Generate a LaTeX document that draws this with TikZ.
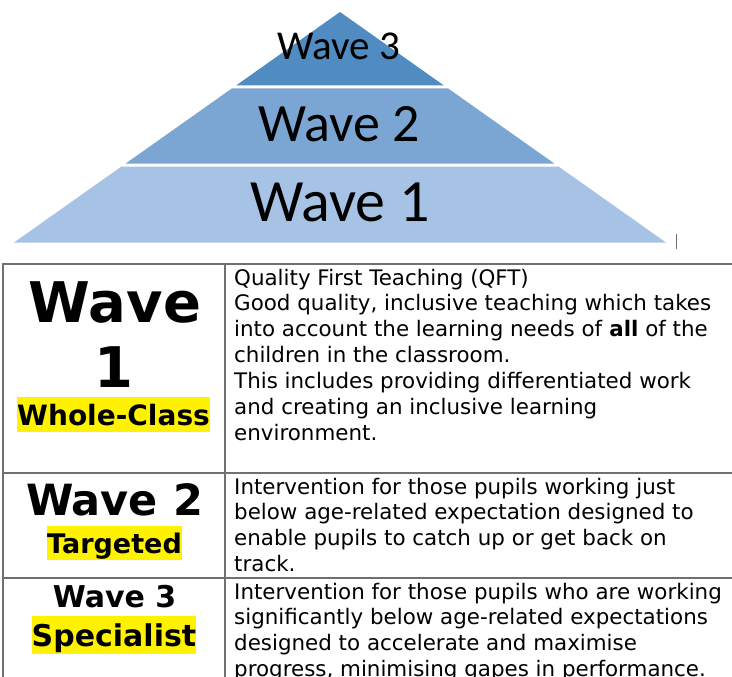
\documentclass[tikz,border=0pt]{standalone}
\usepackage{fontspec}
\setmainfont{DejaVu Sans}
\newfontfamily\pyrfont{Carlito}
\usepackage{tikz}
\usetikzlibrary{positioning}

\definecolor{wavetop}{RGB}{80,139,194}
\definecolor{wavemid}{RGB}{123,166,212}
\definecolor{wavelow}{RGB}{166,194,228}
\definecolor{tabline}{RGB}{112,112,112}

\begin{document}
\begin{tikzpicture}[x=1pt,y=-1pt,
    pyrtext/.style={anchor=base,inner sep=0pt,font=\pyrfont\fontsize{#1}{#1}\selectfont},
    wavehead/.style={anchor=base,inner sep=0pt,font=\bfseries\fontsize{#1}{#1}\selectfont},
    hilite/.style={anchor=base,fill=yellow,inner xsep=0pt,inner ysep=0pt,
        text height=#1pt,text depth=0.25*#1pt,font=\bfseries\fontsize{#1}{#1}\selectfont},
    celltext/.style={anchor=base west,inner sep=0pt,
        font=\fontsize{21.4}{25.9}\selectfont},
    gridline/.style={draw=tabline,line width=1.3pt}]
        \useasboundingbox (0,0) rectangle (732,677);
        \clip (0,0) rectangle (732,677);
        % Pyramid layers
        \fill[wavetop] (340,12) -- (443.95,85.5) -- (236.05,85.5) -- cycle;
        \fill[wavemid] (231.8,88.5) -- (448.2,88.5) -- (554.3,163.5) -- (125.7,163.5) -- cycle;
        \fill[wavelow] (121.5,166.5) -- (558.5,166.5) -- (666,242.5) -- (14,242.5) -- cycle;
        \node[pyrtext=41] (pyr3) at (339,60) {Wave 3};
        \node[pyrtext=54] (pyr2) at (339,142) {Wave 2};
        \node[pyrtext=60] (pyr1) at (340,222) {Wave 1};
        % Cursor mark
        \draw[tabline,line width=1pt] (676,234) -- (676,249);
        % Table lines
        \draw[gridline] (3,677) -- (3,264) -- (732,264);
        \draw[gridline] (225,264) -- (225,677);
        \draw[gridline] (3,473) -- (732,473);
        \draw[gridline] (3,578) -- (732,578);
        % Left column
        \node[wavehead=56] (wone) at (115,322) {Wave};
        \node[wavehead=56] (wonenum) at (114,387) {1};
        \node[hilite=28] (wholeclass) at (113.5,425) {Whole-Class};
        \node[wavehead=43] (wtwo) at (114.5,515) {Wave 2};
        \node[hilite=27] (targeted) at (114.5,553) {Targeted};
        \node[wavehead=30] (wthree) at (114.5,607) {Wave 3};
        \node[hilite=30] (specialist) at (114,646) {Specialist};
        % Right column
        \node[celltext] (qft) at (234,285) {\begin{tabular}[t]{@{}l@{}}
            Quality First Teaching (QFT)\\
            Good quality, inclusive teaching which takes\\
            into account the learning needs of \textbf{all} of the\\
            children in the classroom.\\
            This includes providing differentiated work\\
            and creating an inclusive learning\\
            environment.\end{tabular}};
        \node[celltext] (targetdesc) at (234,494) {\begin{tabular}[t]{@{}l@{}}
            Intervention for those pupils working just\\
            below age-related expectation designed to\\
            enable pupils to catch up or get back on\\
            track.\end{tabular}};
        \node[celltext] (specdesc) at (234,599) {\begin{tabular}[t]{@{}l@{}}
            Intervention for those pupils who are working\\
            significantly below age-related expectations\\
            designed to accelerate and maximise\\
            progress, minimising gapes in performance.\end{tabular}};
    \end{tikzpicture}
\end{document}
